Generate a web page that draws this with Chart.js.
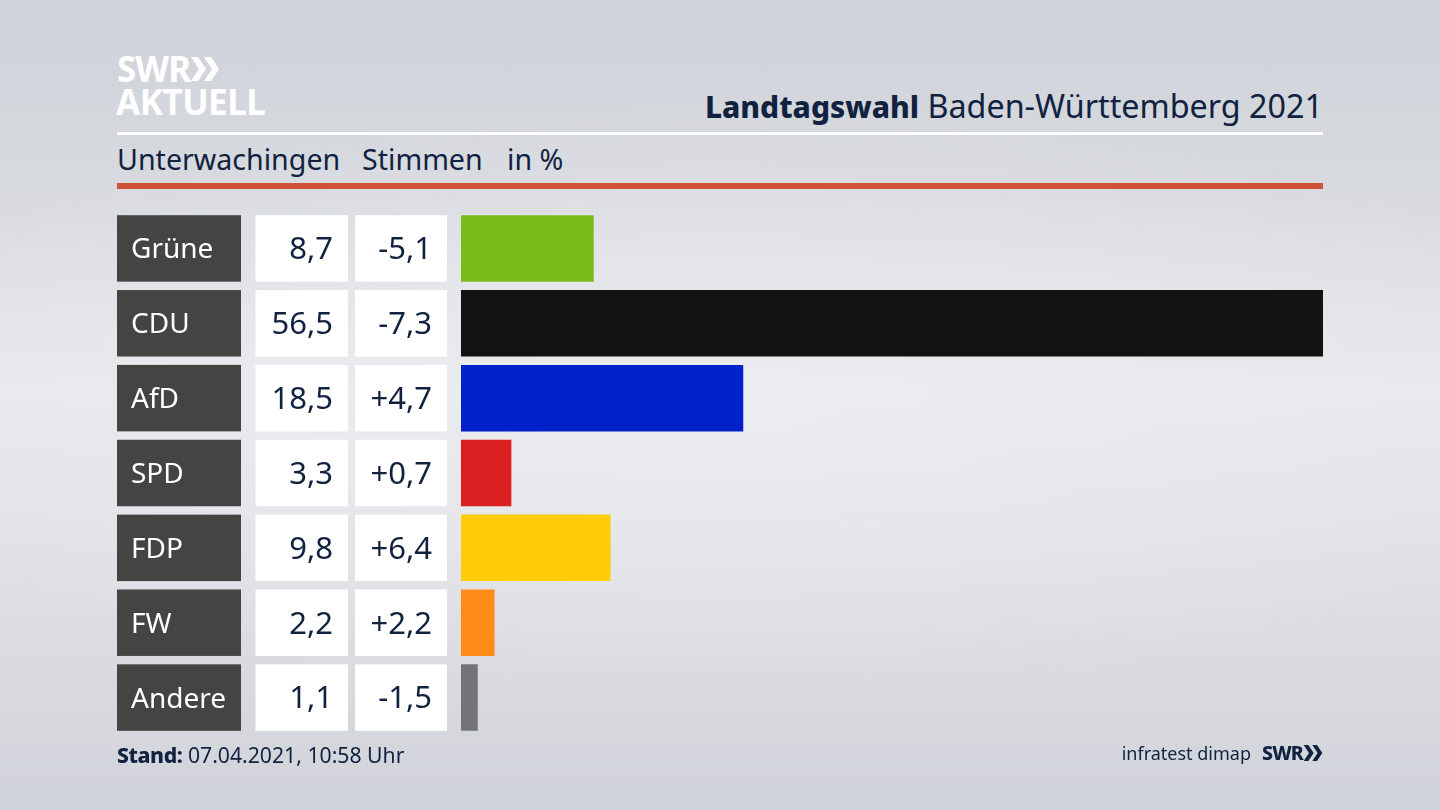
<!DOCTYPE html>
<html lang="de">
<head>
<meta charset="utf-8">
<title>Landtagswahl Baden-Württemberg 2021</title>
<script src="https://cdn.jsdelivr.net/npm/chart.js@4"></script>
<style>
    html, body { margin: 0; padding: 0; }
    body {
        position: relative;
        width: 1440px;
        height: 810px;
        overflow: hidden;
        font-family: "Noto Sans", sans-serif;
        color: #10223f;
        background:
            radial-gradient(ellipse 900px 300px at 720px 400px, rgba(236,237,241,0.75), rgba(236,237,241,0)),
            linear-gradient(180deg, #cfd2d8 0%, #d6d9de 22%, #e8e9ed 48%, #e2e4e8 62%, #d0d3d9 100%);
    }
    #chart { position: absolute; left: 0; top: 0; }
    .txt { position: absolute; white-space: nowrap; line-height: 1; }
    .rule { position: absolute; left: 117px; width: 1206px; }
    #logoTop { left: 117px; top: 51px; font-size: 35px; font-weight: 700; color: #fff; letter-spacing: -1px; }
    #logoBottom { left: 116px; top: 84px; font-size: 35px; font-weight: 700; color: #fff; letter-spacing: -0.5px; }
    #chevrons { position: absolute; left: 190px; top: 57px; }
    #title { right: 117px; top: 89px; font-size: 32.3px; }
    #title b { font-size: 30px; font-weight: 800; }
    #whiteRule { top: 132px; height: 3px; background: #fff; }
    #redRule { top: 183px; height: 6px; background: #cf5138; }
    .sub { top: 145px; font-size: 28.6px; }
    #foot { left: 117px; top: 744px; font-size: 21.2px; }
    #foot b { font-weight: 800; letter-spacing: -0.4px; }
    #source { right: 189px; top: 744px; font-size: 18px; }
    #swrSmall { right: 137px; top: 743px; font-size: 19.5px; font-weight: 800; letter-spacing: -0.8px; }
    #chevronsSmall { position: absolute; left: 1303px; top: 745px; }
</style>
</head>
<body>
<div class="txt" id="logoTop">SWR</div>
<svg id="chevrons" width="30" height="24" viewBox="0 0 30 24">
    <path d="M1 0h7l8 12-8 12H1l8-12zM14 0h7l8 12-8 12h-7l8-12z" fill="#fff"/>
</svg>
<div class="txt" id="logoBottom">AKTUELL</div>
<div class="txt" id="title"><b>Landtagswahl</b> Baden-Württemberg 2021</div>
<div class="rule" id="whiteRule"></div>
<div class="txt sub" style="left:117px">Unterwachingen</div>
<div class="txt sub" style="left:362px">Stimmen</div>
<div class="txt sub" style="left:507px">in %</div>
<div class="rule" id="redRule"></div>
<canvas id="chart" width="1440" height="810"></canvas>
<div class="txt" id="foot"><b>Stand:</b> 07.04.2021, 10:58 Uhr</div>
<div class="txt" id="source">infratest dimap</div>
<div class="txt" id="swrSmall">SWR</div>
<svg id="chevronsSmall" width="20" height="16" viewBox="0 0 30 24">
    <path d="M1 0h7l8 12-8 12H1l8-12zM14 0h7l8 12-8 12h-7l8-12z" fill="#10223f"/>
</svg>
<script>
const parties = ['Grüne', 'CDU', 'AfD', 'SPD', 'FDP', 'FW', 'Andere'];
const shares = [8.7, 56.5, 18.5, 3.3, 9.8, 2.2, 1.1];
const changes = [-5.1, -7.3, 4.7, 0.7, 6.4, 2.2, -1.5];
const partyColors = ['#78bc1b', '#121212', '#0022c8', '#d91f1f', '#ffcc07', '#ff8c17', '#747477'];

// German number format, with an explicit sign for the change column
const formatShare = (v) => v.toFixed(1).replace('.', ',');
const formatChange = (v) => (v > 0 ? '+' : '-') + Math.abs(v).toFixed(1).replace('.', ',');

// Party label and the two white value cells left of each bar
const rowCells = {
    id: 'rowCells',
    afterDatasetsDraw(chart) {
        const ctx = chart.ctx;
        ctx.save();
        ctx.textBaseline = 'middle';
        chart.getDatasetMeta(0).data.forEach((bar, i) => {
            const top = bar.y - bar.height / 2;

            ctx.fillStyle = '#444442';
            ctx.fillRect(117, top, 124, bar.height);
            ctx.fillStyle = '#ffffff';
            ctx.fillRect(255.5, top, 92.5, bar.height);
            ctx.fillRect(355, top, 92, bar.height);

            ctx.font = '28px "Noto Sans", sans-serif';
            ctx.textAlign = 'left';
            ctx.fillText(parties[i], 131, bar.y + 2);

            ctx.font = '31px "Noto Sans", sans-serif';
            ctx.fillStyle = '#10223f';
            ctx.textAlign = 'right';
            ctx.fillText(formatShare(shares[i]), 333, bar.y + 2);
            ctx.fillText(formatChange(changes[i]), 432, bar.y + 2);
        });
        ctx.restore();
    }
};

new Chart(document.getElementById('chart'), {
    type: 'bar',
    data: {
        labels: parties,
        datasets: [{
            data: shares,
            backgroundColor: partyColors,
            borderWidth: 0,
            barPercentage: 0.888,
            categoryPercentage: 1
        }]
    },
    options: {
        indexAxis: 'y',
        responsive: false,
        animation: false,
        layout: { padding: { left: 461, right: 117, top: 211, bottom: 75 } },
        plugins: { legend: { display: false }, tooltip: { enabled: false } },
        scales: {
            x: { display: false, min: 0, max: 56.5 },
            y: { display: false }
        }
    },
    plugins: [rowCells]
});
</script>
</body>
</html>
